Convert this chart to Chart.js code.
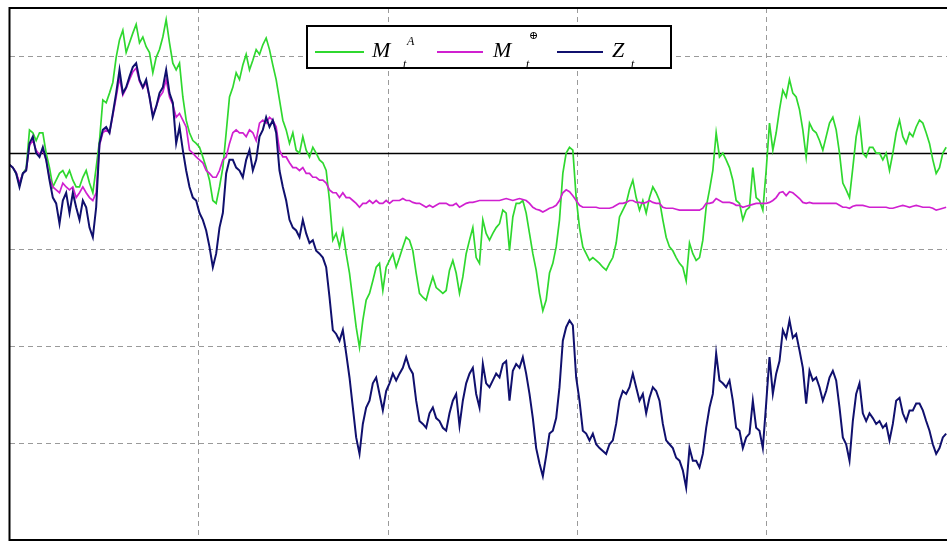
<!DOCTYPE html>
<html>
<head>
<meta charset="utf-8">
<script src="https://cdn.jsdelivr.net/npm/chart.js@4.4.1/dist/chart.umd.min.js"></script>
<style>
html,body{margin:0;padding:0;background:#fff;}
#wrap{position:relative;width:947px;height:542px;overflow:hidden;}
#c{position:absolute;left:0;top:0;}
#legend{position:absolute;left:306px;top:25px;width:362px;height:40px;border:2px solid #000;background:#fff;
  font-family:"Liberation Serif","DejaVu Serif",serif;font-style:italic;color:#000;overflow:visible;}
#legend .ln{position:absolute;height:2px;}
#legend .tx{position:absolute;font-size:22px;line-height:22px;white-space:nowrap;}
#legend .sm{position:absolute;font-size:12px;line-height:12px;white-space:nowrap;}
</style>
</head>
<body>
<div id="wrap">
<canvas id="c" width="947" height="542"></canvas>
<div id="legend">
  <div class="ln" style="left:7px;top:24px;width:49px;background:#2fd82f"></div>
  <div class="tx" style="left:64px;top:12px">M</div>
  <div class="sm" style="left:99px;top:8px">A</div>
  <div class="sm" style="left:95px;top:31px">t</div>
  <div class="ln" style="left:129px;top:24px;width:46px;background:#d020d0"></div>
  <div class="tx" style="left:185px;top:12px">M</div>
  <div class="sm" style="left:221px;top:2px;font-size:11px;font-style:normal">⊕</div>
  <div class="sm" style="left:218px;top:31px">t</div>
  <div class="ln" style="left:249px;top:24px;width:46px;background:#10106e"></div>
  <div class="tx" style="left:304px;top:12px">Z</div>
  <div class="sm" style="left:323px;top:31px">t</div>
</div>
</div>
<script>
const seriesNames = ["M_t^A", "M_t^⊕", "Z_t"];

const mA = [
-0.12,-0.15,-0.21,-0.33,-0.21,-0.16,0.24,0.21,0.13,0.21,
0.21,0,-0.15,-0.35,-0.28,-0.21,-0.18,-0.25,-0.18,-0.28,
-0.35,-0.35,-0.25,-0.18,-0.31,-0.41,-0.15,0.13,0.55,0.52,
0.62,0.73,0.99,1.17,1.27,1.04,1.14,1.24,1.33,1.14,
1.20,1.10,1.04,0.83,0.99,1.07,1.20,1.38,1.14,0.93,
0.86,0.93,0.58,0.34,0.21,0.13,0.10,0.06,-0.04,-0.15,
-0.28,-0.49,-0.52,-0.35,-0.15,0.21,0.58,0.68,0.83,0.76,
0.91,1.02,0.86,0.96,1.07,1.02,1.12,1.19,1.07,0.91,
0.76,0.55,0.34,0.24,0.10,0.21,0.03,0,0.17,0.03,
-0.04,0.06,0,-0.07,-0.10,-0.18,-0.49,-0.90,-0.83,-0.97,
-0.80,-1.04,-1.24,-1.52,-1.80,-2.01,-1.73,-1.52,-1.45,-1.32,
-1.18,-1.14,-1.42,-1.18,-1.11,-1.04,-1.18,-1.08,-0.97,-0.87,
-0.90,-1.01,-1.24,-1.45,-1.49,-1.52,-1.39,-1.28,-1.39,-1.42,
-1.45,-1.42,-1.21,-1.11,-1.24,-1.45,-1.28,-1.04,-0.90,-0.77,
-1.08,-1.14,-0.69,-0.83,-0.90,-0.83,-0.77,-0.73,-0.59,-0.62,
-1.01,-0.66,-0.52,-0.52,-0.49,-0.62,-0.83,-1.04,-1.21,-1.45,
-1.63,-1.52,-1.24,-1.14,-0.97,-0.69,-0.21,0,0.06,0.03,
-0.46,-0.77,-0.97,-1.04,-1.11,-1.08,-1.11,-1.14,-1.18,-1.21,
-1.14,-1.08,-0.93,-0.66,-0.59,-0.52,-0.38,-0.28,-0.46,-0.59,
-0.49,-0.62,-0.46,-0.35,-0.41,-0.49,-0.69,-0.87,-0.97,-1.01,
-1.08,-1.14,-1.18,-1.32,-0.93,-1.04,-1.11,-1.08,-0.90,-0.56,
-0.38,-0.18,0.21,-0.04,0,-0.07,-0.15,-0.28,-0.49,-0.52,
-0.69,-0.59,-0.56,-0.15,-0.46,-0.49,-0.59,-0.18,0.31,0.03,
0.21,0.45,0.65,0.58,0.76,0.62,0.58,0.45,0.24,-0.04,
0.31,0.24,0.21,0.13,0.03,0.17,0.31,0.37,0.24,0,
-0.31,-0.38,-0.46,-0.15,0.17,0.34,0,-0.04,0.06,0.06,
0,0,-0.07,0,-0.18,0,0.21,0.34,0.17,0.10,
0.21,0.17,0.27,0.34,0.31,0.21,0.10,-0.07,-0.21,-0.15,
0,0.06
];

const mPlus = [
-0.12,-0.15,-0.20,-0.31,-0.21,-0.18,0.08,0.13,0.03,-0.02,
0.03,-0.07,-0.26,-0.35,-0.38,-0.41,-0.31,-0.35,-0.38,-0.35,
-0.46,-0.41,-0.35,-0.41,-0.46,-0.49,-0.41,0.08,0.21,0.24,
0.21,0.39,0.58,0.78,0.60,0.67,0.76,0.84,0.88,0.74,
0.67,0.73,0.58,0.39,0.48,0.58,0.63,0.76,0.58,0.50,
0.37,0.41,0.34,0.27,0.03,0,-0.04,-0.07,-0.10,-0.18,
-0.21,-0.25,-0.25,-0.18,-0.07,-0.04,0.10,0.21,0.24,0.21,
0.21,0.17,0.24,0.21,0.13,0.31,0.34,0.31,0.37,0.34,
0.27,0.03,-0.04,-0.04,-0.10,-0.15,-0.15,-0.18,-0.15,-0.21,
-0.21,-0.25,-0.25,-0.28,-0.28,-0.31,-0.38,-0.41,-0.41,-0.46,
-0.41,-0.46,-0.46,-0.49,-0.52,-0.56,-0.52,-0.52,-0.49,-0.52,
-0.49,-0.52,-0.52,-0.49,-0.52,-0.49,-0.49,-0.49,-0.47,-0.49,
-0.49,-0.51,-0.52,-0.52,-0.54,-0.56,-0.54,-0.56,-0.54,-0.52,
-0.52,-0.52,-0.54,-0.54,-0.52,-0.56,-0.54,-0.52,-0.51,-0.51,
-0.50,-0.49,-0.49,-0.49,-0.49,-0.49,-0.49,-0.49,-0.48,-0.47,
-0.48,-0.49,-0.48,-0.47,-0.48,-0.49,-0.52,-0.56,-0.58,-0.59,
-0.61,-0.59,-0.57,-0.56,-0.54,-0.49,-0.41,-0.38,-0.40,-0.44,
-0.49,-0.54,-0.56,-0.56,-0.56,-0.56,-0.56,-0.57,-0.57,-0.57,
-0.57,-0.56,-0.54,-0.52,-0.52,-0.51,-0.49,-0.49,-0.51,-0.51,
-0.52,-0.51,-0.49,-0.51,-0.52,-0.52,-0.56,-0.57,-0.57,-0.57,
-0.58,-0.59,-0.59,-0.59,-0.59,-0.59,-0.59,-0.59,-0.57,-0.52,
-0.52,-0.51,-0.47,-0.49,-0.51,-0.51,-0.51,-0.52,-0.54,-0.54,
-0.56,-0.55,-0.54,-0.53,-0.52,-0.52,-0.52,-0.52,-0.51,-0.49,
-0.46,-0.41,-0.40,-0.44,-0.40,-0.41,-0.44,-0.47,-0.51,-0.52,
-0.51,-0.52,-0.52,-0.52,-0.52,-0.52,-0.52,-0.52,-0.52,-0.54,
-0.56,-0.56,-0.57,-0.55,-0.54,-0.54,-0.54,-0.55,-0.56,-0.56,
-0.56,-0.56,-0.56,-0.56,-0.57,-0.57,-0.56,-0.55,-0.54,-0.55,
-0.56,-0.55,-0.54,-0.55,-0.56,-0.56,-0.56,-0.57,-0.59,-0.58,
-0.57,-0.56
];

const zT = [
-0.12,-0.15,-0.21,-0.35,-0.21,-0.18,0.10,0.17,0,-0.04,
0.06,-0.07,-0.28,-0.46,-0.52,-0.73,-0.49,-0.41,-0.62,-0.41,
-0.56,-0.69,-0.49,-0.56,-0.77,-0.87,-0.56,0.10,0.24,0.27,
0.21,0.41,0.62,0.86,0.62,0.68,0.79,0.89,0.93,0.76,
0.68,0.76,0.58,0.37,0.48,0.62,0.68,0.86,0.62,0.52,
0.10,0.27,0.03,-0.18,-0.35,-0.46,-0.49,-0.62,-0.69,-0.80,
-0.97,-1.18,-1.04,-0.77,-0.62,-0.21,-0.07,-0.07,-0.15,-0.18,
-0.25,-0.07,0.03,-0.18,-0.07,0.17,0.24,0.37,0.27,0.34,
0.21,-0.18,-0.35,-0.49,-0.69,-0.77,-0.80,-0.87,-0.69,-0.83,
-0.93,-0.90,-1.01,-1.04,-1.08,-1.18,-1.49,-1.83,-1.87,-1.94,
-1.83,-2.07,-2.32,-2.63,-2.94,-3.11,-2.80,-2.63,-2.56,-2.38,
-2.32,-2.49,-2.66,-2.46,-2.38,-2.28,-2.35,-2.28,-2.22,-2.11,
-2.22,-2.28,-2.56,-2.77,-2.80,-2.84,-2.69,-2.63,-2.74,-2.77,
-2.84,-2.87,-2.69,-2.56,-2.49,-2.82,-2.56,-2.38,-2.28,-2.22,
-2.49,-2.63,-2.18,-2.38,-2.42,-2.35,-2.28,-2.32,-2.18,-2.15,
-2.56,-2.25,-2.18,-2.22,-2.11,-2.28,-2.49,-2.74,-3.05,-3.21,
-3.34,-3.13,-2.90,-2.87,-2.74,-2.42,-1.94,-1.80,-1.73,-1.78,
-2.32,-2.56,-2.87,-2.90,-2.97,-2.90,-3.01,-3.05,-3.08,-3.11,
-3.01,-2.97,-2.80,-2.56,-2.46,-2.49,-2.42,-2.28,-2.42,-2.56,
-2.49,-2.69,-2.53,-2.42,-2.46,-2.56,-2.80,-2.97,-3.01,-3.05,
-3.15,-3.18,-3.28,-3.46,-3.05,-3.18,-3.18,-3.25,-3.11,-2.84,
-2.63,-2.49,-2.07,-2.35,-2.38,-2.42,-2.35,-2.56,-2.84,-2.87,
-3.05,-2.94,-2.90,-2.56,-2.84,-2.87,-3.05,-2.59,-2.11,-2.49,
-2.28,-2.15,-1.83,-1.91,-1.73,-1.91,-1.87,-2.04,-2.22,-2.59,
-2.25,-2.35,-2.32,-2.42,-2.56,-2.46,-2.32,-2.25,-2.35,-2.63,
-2.94,-3.01,-3.18,-2.77,-2.49,-2.38,-2.69,-2.77,-2.69,-2.74,
-2.80,-2.77,-2.84,-2.80,-2.97,-2.80,-2.56,-2.53,-2.69,-2.77,
-2.66,-2.66,-2.59,-2.59,-2.66,-2.77,-2.87,-3.01,-3.11,-3.05,
-2.94,-2.90
];

const timeIndex = zT.map((_, i) => i);
const xGridTicks = [56.8, 113.6, 170.4, 227.2];
const yGridTicks = [-3, -2, -1, 1];

function pts(arr){ return arr.map((v,i)=>({x:timeIndex[i], y:v})); }

const framePlugin = {
  id: 'frame',
  beforeDatasetsDraw(chart){
    const {ctx, chartArea:a, scales:{y}} = chart;
    const y0 = Math.round(y.getPixelForValue(0)) + 0.5;
    ctx.save();
    ctx.strokeStyle = '#000';
    ctx.lineWidth = 1.6;
    ctx.beginPath(); ctx.moveTo(a.left, y0); ctx.lineTo(a.right, y0); ctx.stroke();
    ctx.restore();
  },
  afterDraw(chart){
    const {ctx, chartArea:a} = chart;
    ctx.save();
    ctx.strokeStyle = '#000';
    ctx.lineWidth = 2;
    ctx.beginPath();
    ctx.moveTo(a.right + 5, a.top);
    ctx.lineTo(a.left, a.top);
    ctx.lineTo(a.left, a.bottom);
    ctx.lineTo(a.right + 5, a.bottom);
    ctx.stroke();
    ctx.restore();
  }
};

new Chart(document.getElementById('c'), {
  type: 'line',
  data: {
    datasets: [
      {label: seriesNames[0], data: pts(mA), borderColor:'#2fd82f', borderWidth:1.7, pointRadius:0, tension:0, order:3},
      {label: seriesNames[1], data: pts(mPlus), borderColor:'#d020d0', borderWidth:1.7, pointRadius:0, tension:0, order:2},
      {label: seriesNames[2], data: pts(zT), borderColor:'#10106e', borderWidth:2, pointRadius:0, tension:0, order:1}
    ]
  },
  options: {
    responsive: false,
    animation: false,
    events: [],
    layout: {padding: {left: 9.5, top: 8, right: 0, bottom: 2}},
    plugins: {legend: {display:false}, tooltip: {enabled:false}},
    scales: {
      x: {
        type: 'linear', min: 0, max: 281.25,
        afterBuildTicks: s => { s.ticks = xGridTicks.map(v => ({value: v})); },
        ticks: {display:false},
        grid: {drawTicks:false, lineWidth:1, color:'#9a9a9a'},
        border: {display:false, dash:[5,4]},
        afterFit: s => { s.height = 0; }
      },
      y: {
        min: -4, max: 1.5,
        afterBuildTicks: s => { s.ticks = yGridTicks.map(v => ({value: v})); },
        ticks: {display:false},
        grid: {drawTicks:false, lineWidth:1, color:'#9a9a9a'},
        border: {display:false, dash:[5,4]},
        afterFit: s => { s.width = 0; }
      }
    }
  },
  plugins: [framePlugin]
});
</script>
</body>
</html>
